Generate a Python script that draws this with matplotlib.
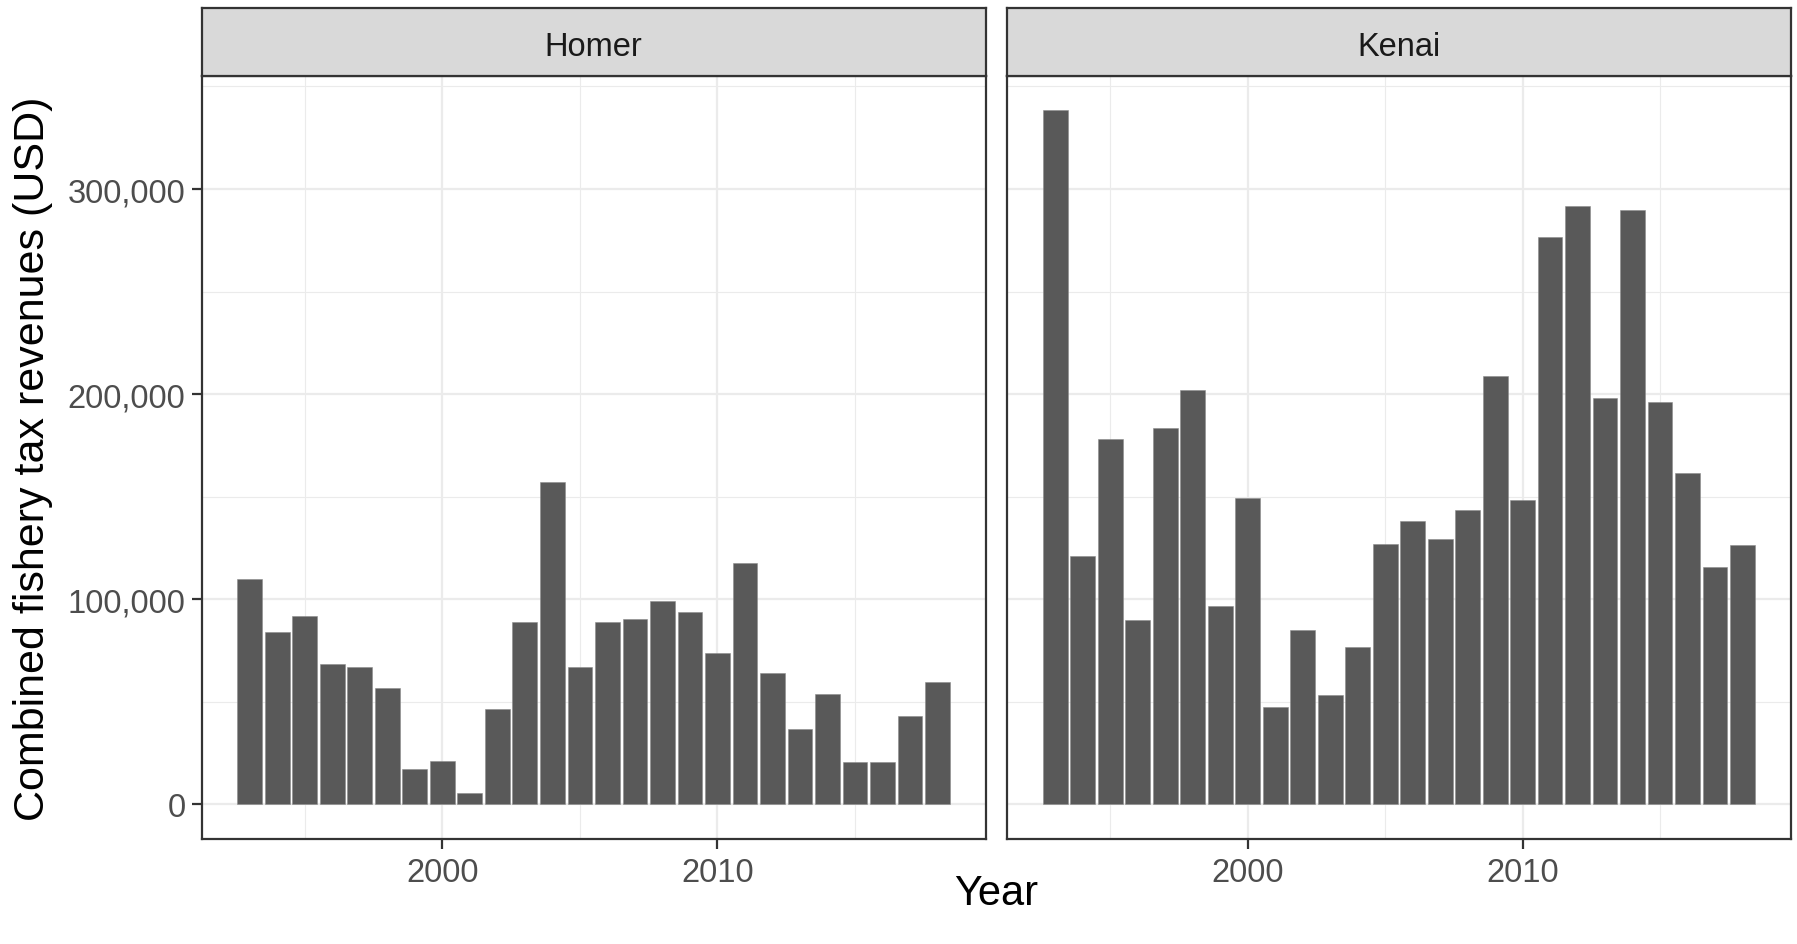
import numpy as np
import matplotlib.pyplot as plt
from matplotlib.ticker import FuncFormatter, MultipleLocator

plt.rcParams['font.family'] = ['Liberation Sans', 'DejaVu Sans']

# Datos
anios = list(range(1993, 2019))
homer = [110100, 84100, 91700, 68300, 67000, 56700, 17200, 21100, 5500, 46500,
         88800, 157200, 67000, 88800, 90400, 99200, 93700, 73800, 117700, 64200,
         36700, 54000, 20500, 20500, 43100, 59500]
kenai = [338300, 121300, 178000, 89800, 183700, 201900, 96700, 149400, 47300, 84900,
         53400, 76800, 127000, 138300, 129600, 143300, 208700, 148500, 276600, 291500,
         197900, 289800, 196000, 161700, 115800, 126200]
paneles = ['Homer', 'Kenai']
valores = [homer, kenai]

W, H = 1797, 945
fig = plt.figure(figsize=(W / 100, H / 100), dpi=100)

y_bot = 1 - 840 / H
y_top = 1 - 76.8 / H
s_top = 1 - 9.2 / H
lefts = [201.7 / W, 1007.4 / W]
rights = [985.6 / W, 1790.5 / W]

gris_borde = '#333333'
ymax = max(kenai)
exp_y = 0.05 * ymax
xmin, xmax = anios[0] - 0.45, anios[-1] + 0.45
exp_x = 0.05 * (xmax - xmin)

for i, (nombre, vals) in enumerate(zip(paneles, valores)):
    ax = fig.add_axes([lefts[i], y_bot, rights[i] - lefts[i], y_top - y_bot])
    ax.bar(anios, vals, width=0.9, color='#595959', edgecolor='#8c8c8c',
           linewidth=0.4, zorder=3)
    ax.set_xlim(xmin - exp_x, xmax + exp_x)
    ax.set_ylim(-exp_y, ymax + exp_y)
    ax.xaxis.set_major_locator(MultipleLocator(10))
    ax.xaxis.set_minor_locator(MultipleLocator(5))
    ax.yaxis.set_major_locator(MultipleLocator(100000))
    ax.yaxis.set_minor_locator(MultipleLocator(50000))
    ax.grid(which='major', color='#EBEBEB', linewidth=1.6, zorder=0)
    ax.grid(which='minor', color='#EBEBEB', linewidth=0.8, zorder=0)
    ax.tick_params(which='minor', length=0)
    ax.tick_params(which='major', length=7.2, width=1.6, color=gris_borde,
                   labelsize=23.5, labelcolor='#4D4D4D')
    ax.tick_params(axis='x', pad=6)
    ax.tick_params(axis='y', pad=4.5)
    ax.yaxis.set_major_formatter(FuncFormatter(lambda v, p: f'{int(v):,}'))
    if i == 1:
        ax.tick_params(axis='y', length=0, labelleft=False)
    for sp in ax.spines.values():
        sp.set_color(gris_borde)
        sp.set_linewidth(1.6)
        sp.set_zorder(5)

    # franja del panel
    sx = fig.add_axes([lefts[i], y_top, rights[i] - lefts[i], s_top - y_top])
    sx.set_facecolor('#D9D9D9')
    sx.set_xticks([])
    sx.set_yticks([])
    for sp in sx.spines.values():
        sp.set_color(gris_borde)
        sp.set_linewidth(1.6)
    sx.text(0.5, 0.44, nombre, ha='center', va='center', fontsize=23.5,
            color='#1A1A1A', transform=sx.transAxes)

fig.text((lefts[0] + rights[1]) / 2, 1 - 894 / H, 'Year',
         ha='center', va='center', fontsize=30)
fig.text(33 / W, (y_bot + y_top) / 2, 'Combined fishery tax revenues (USD)',
         ha='center', va='center', rotation=90, fontsize=31)

plt.savefig('out.png', dpi=100)
